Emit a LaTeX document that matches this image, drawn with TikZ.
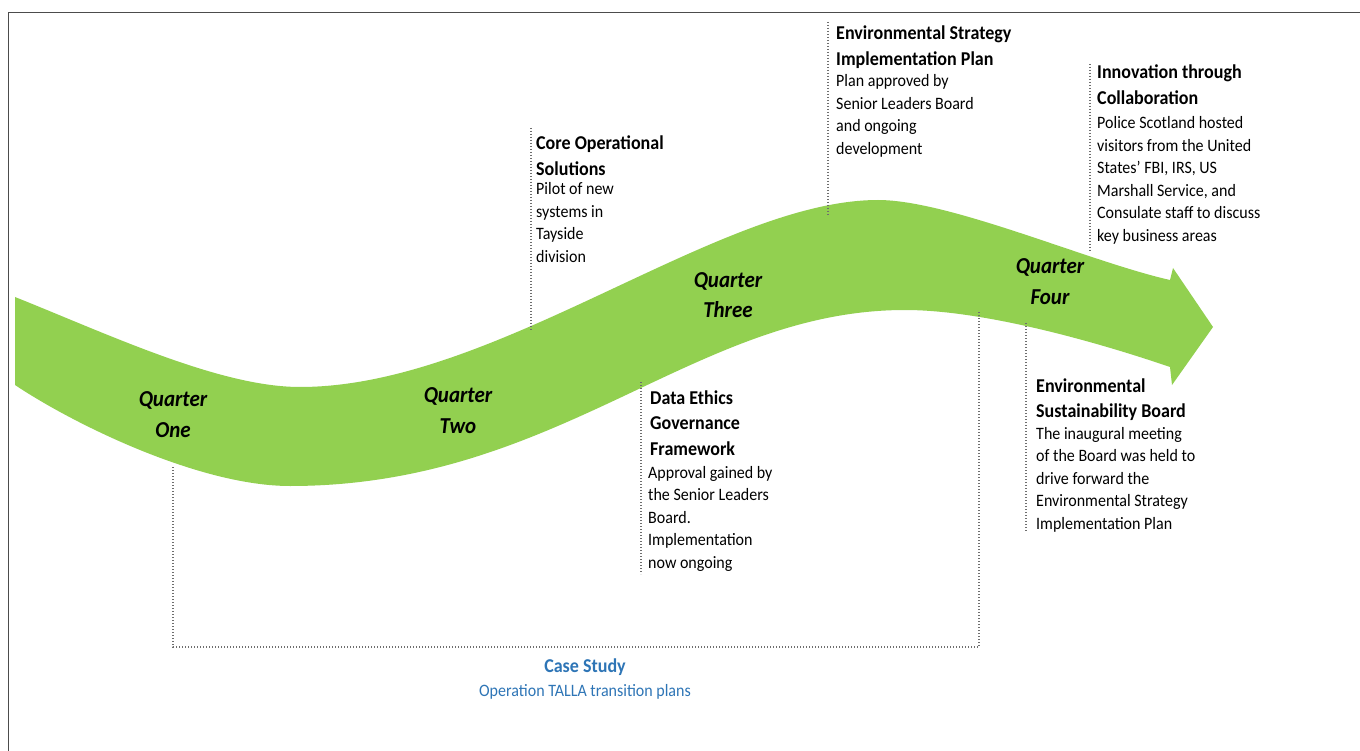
\documentclass[tikz,border=0pt]{standalone}
\usepackage{fontspec}
\setmainfont{Carlito}[FakeStretch=0.92]
\usepackage{tikz}
\usetikzlibrary{positioning}

\definecolor{ribbongreen}{HTML}{92D050}
\definecolor{caseblue}{HTML}{2E75B6}
\definecolor{guidegray}{HTML}{6E6E6E}

\begin{document}
\begin{tikzpicture}[x=1pt,y=-1pt,
	guide/.style={guidegray,line width=1.4pt,dash pattern=on 1.4pt off 1.6pt},
	quarter/.style={anchor=base,align=center,inner sep=0pt,font=\fontsize{22.8}{31}\selectfont\bfseries\itshape},
	evtitle/.style={anchor=base west,align=left,inner sep=0pt,font=\fontsize{19.6}{25.5}\selectfont\bfseries},
	evtext/.style={anchor=base west,align=left,inner sep=0pt,font=\fontsize{17.4}{22.5}\selectfont}]

	\useasboundingbox (0,0) rectangle (1360,751);
	\fill[white] (0,0) rectangle (1360,751);
	\draw[black!70,line width=1pt] (8,751) -- (8,13) -- (1360,13);

	% the year ribbon
	\fill[ribbongreen] (15,297) .. controls (110,335) and (220,387) .. (300,387)
		.. controls (496,387) and (718,200) .. (878,200)
		.. controls (950,200) and (1090,262) .. (1170,280)
		-- (1173,268) -- (1213,327) -- (1172,385) -- (1170,367)
		.. controls (1100,343) and (985,310) .. (905,310)
		.. controls (694,310) and (560,486) .. (290,486)
		.. controls (200,486) and (75,425) .. (15,385) -- cycle;

	% base of a node = baseline of its last line
	\node[quarter] (q1) at (173,437) {Quarter\\One};
	\node[quarter] (q2) at (458,433) {Quarter\\Two};
	\node[quarter] (q3) at (728,318) {Quarter\\Three};
	\node[quarter] (q4) at (1050,305) {Quarter\\Four};

	% leader lines
	\coordinate (q1foot) at (173,467);
	\coordinate (q1corner) at (173,647);
	\coordinate (q4corner) at (979,647);
	\coordinate (q4foot) at (979,312);
	\draw[guide] (q1foot) -- (q1corner) -- (q4corner) -- (q4foot);

	\coordinate (coretop) at (531,128);
	\coordinate (corebot) at (531,330);
	\coordinate (strattop) at (828,22);
	\coordinate (stratbot) at (828,215);
	\coordinate (innovtop) at (1090,64);
	\coordinate (innovbot) at (1090,251);
	\coordinate (ethicstop) at (641,382);
	\coordinate (ethicsbot) at (641,574);
	\coordinate (susttop) at (1026,323);
	\coordinate (sustbot) at (1026,532);
	\draw[guide] (coretop) -- (corebot);
	\draw[guide] (strattop) -- (stratbot);
	\draw[guide] (innovtop) -- (innovbot);
	\draw[guide] (ethicstop) -- (ethicsbot);
	\draw[guide] (susttop) -- (sustbot);

	% events
	\node[evtitle] (coret) at (536,175.5) {Core Operational\\Solutions};
	\node[evtext] (cored) at (536,262.5) {Pilot of new\\systems in\\Tayside\\division};

	\node[evtitle] (stratt) at (836,65.5) {Environmental Strategy\\Implementation Plan};
	\node[evtext] (stratd) at (836,154.5) {Plan approved by\\Senior Leaders Board\\and ongoing\\development};

	\node[evtitle] (innovt) at (1097,104.5) {Innovation through\\Collaboration};
	\node[evtext] (innovd) at (1097,241.5) {Police Scotland hosted\\visitors from the United\\States' FBI, IRS, US\\Marshall Service, and\\Consulate staff to discuss\\key business areas};

	\node[evtitle] (ethicst) at (650,455) {Data Ethics\\Governance\\Framework};
	\node[evtext] (ethicsd) at (648,568) {Approval gained by\\the Senior Leaders\\Board.\\Implementation\\now ongoing};

	\node[evtitle] (sustt) at (1036,417.5) {Environmental\\Sustainability Board};
	\node[evtext] (sustd) at (1036,529) {The inaugural meeting\\of the Board was held to\\drive forward the\\Environmental Strategy\\Implementation Plan};

	% case study
	\node[anchor=base,inner sep=0pt,caseblue,font=\fontsize{19.6}{22}\selectfont\bfseries] (case) at (585,672) {Case Study};
	\node[anchor=base,inner sep=0pt,caseblue,font=\fontsize{17.4}{20}\selectfont] (talla) at (585,696) {Operation TALLA transition plans};

\end{tikzpicture}
\end{document}
